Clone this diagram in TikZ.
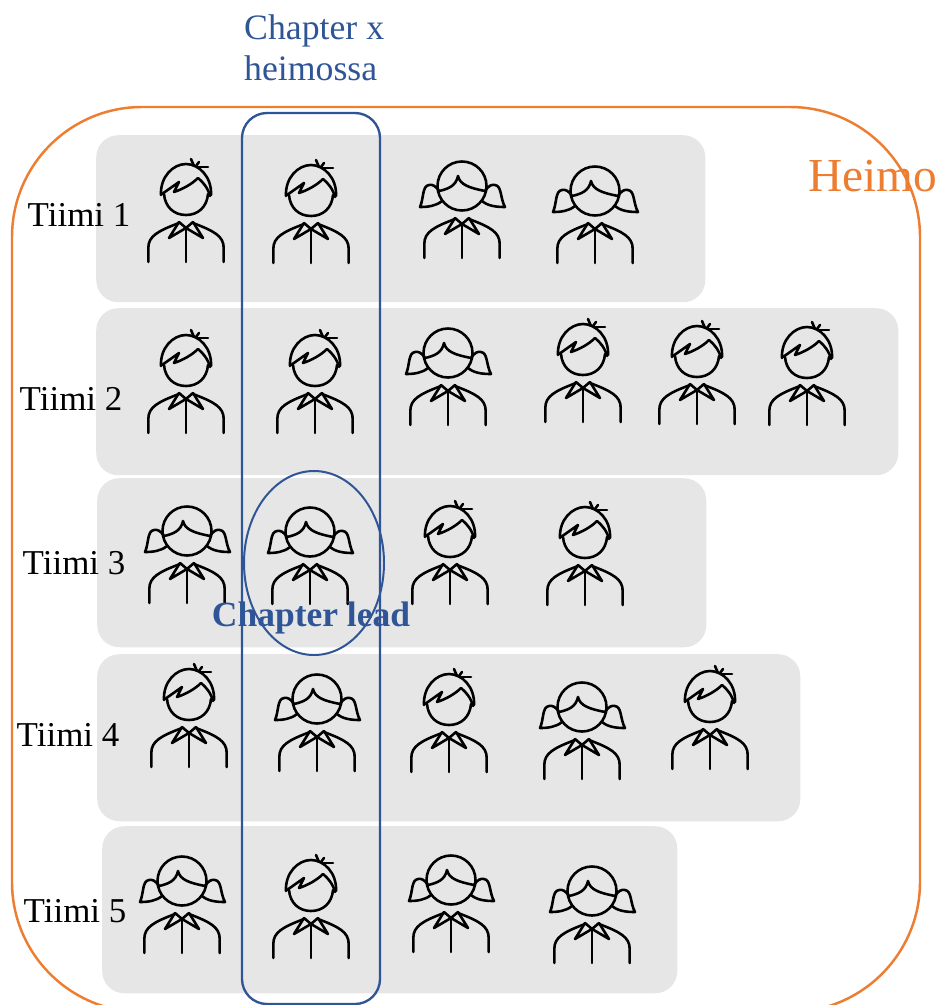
\documentclass[tikz,border=0pt]{standalone}
\usepackage{fontspec}
\usetikzlibrary{shapes.geometric}
\setmainfont{Liberation Serif}
\definecolor{heimoorange}{HTML}{ED7D31}
\definecolor{chapterblue}{HTML}{2F5597}
\definecolor{panelgray}{HTML}{E6E6E6}
\begin{document}
\begin{tikzpicture}[x=0.03cm,y=-0.03cm]
        \tikzset{panel/.style = {shape=rectangle,fill=panelgray,rounded corners=0.66cm,inner sep=0pt,anchor=north west}}
        \tikzset{team/.style = {font=\fontsize{29.8}{32}\selectfont,inner sep=0pt}}
        \tikzset{icon/.style = {line width=2.2pt,line cap=round,line join=round}}
        \tikzset{body/.pic = {
                \draw[icon] (-37.7,72) -- (-37.7,58) .. controls (-37.7,46) and (-28,41) .. (-7,33);
                \draw[icon] (37.7,72) -- (37.7,58) .. controls (37.7,46) and (28,41) .. (7,33);
                \draw[icon] (-7,32) -- (-17,48) -- (0,38) -- (17,48) -- (7,32);
                \draw[icon] (-7,32) -- (0,38) -- (7,32);
                \draw[icon] (0,38) -- (0,72);
        }}
        \tikzset{boy/.pic = {
                \pic {body};
                \draw[icon] (-25,5) .. controls (-26,-13) and (-13,-26) .. (0,-26) .. controls (13,-26) and (26,-13) .. (25,5);
                \draw[icon] (-22,4) .. controls (-21,17) and (-12,25) .. (0,25) .. controls (12,25) and (21,17) .. (22,4);
                \draw[icon] (-24,4) -- (-7,-8) -- (-12,2) .. controls (-3,-1) and (6,-6) .. (12,-12) .. controls (17,-8) and (22,-2) .. (24,6);
                \draw[icon] (5,-31) -- (8,-24);
                \draw[icon] (13,-28) -- (10,-24);
                \draw[icon] (22,-23) -- (12,-23);
        }}
        \tikzset{girl/.pic = {
                \pic {body};
                \draw[icon] (0,0) circle (24.5);
                \draw[icon] (-23,5) .. controls (-14,3) and (-6,0) .. (-4,-10) .. controls (-2,-1) and (8,2) .. (23,5);
                \draw[icon] (-23,5) .. controls (-26,0) and (-30,-2) .. (-33,-1) .. controls (-40,0) and (-38,12) .. (-42,21) .. controls (-34,21) and (-26,20) .. (-20,15);
                \draw[icon] (23,5) .. controls (26,0) and (30,-2) .. (33,-1) .. controls (40,0) and (38,12) .. (43,21) .. controls (34,21) and (26,20) .. (20,15);
        }}

        \useasboundingbox (0,0) rectangle (940,1005);

        \node[panel, minimum width=18.27cm, minimum height=5.01cm] (p1) at (96,135) {};
        \node[panel, minimum width=24.06cm, minimum height=5.01cm] (p2) at (96,308) {};
        \node[panel, minimum width=18.27cm, minimum height=5.07cm] (p3) at (97,478) {};
        \node[panel, minimum width=21.09cm, minimum height=5.01cm] (p4) at (97,654) {};
        \node[panel, minimum width=17.25cm, minimum height=5.01cm] (p5) at (102,826) {};

        \pic at (186,190) {boy};
        \pic at (311,191) {boy};
        \pic at (462,186) {girl};
        \pic at (595,191) {girl};

        \pic at (186,361) {boy};
        \pic at (315,361) {boy};
        \pic at (448,353) {girl};
        \pic at (583,350) {boy};
        \pic at (697,352) {boy};
        \pic at (807,353) {boy};

        \pic at (187,531) {girl};
        \pic at (310,532) {girl};
        \pic at (450,532) {boy};
        \pic at (585,533) {boy};

        \pic at (189,695) {boy};
        \pic at (317,699) {girl};
        \pic at (449,700) {boy};
        \pic at (582,707) {girl};
        \pic at (710,697) {boy};

        \pic at (182,881) {girl};
        \pic at (311,886) {boy};
        \pic at (451,880) {girl};
        \pic at (592,891) {girl};

        \node[team] (t1) at (79,215) {Tiimi 1};
        \node[team] (t2) at (71,399) {Tiimi 2};
        \node[team] (t3) at (74,563) {Tiimi 3};
        \node[team] (t4) at (68,735) {Tiimi 4};
        \node[team] (t5) at (75,911) {Tiimi 5};

        \draw[heimoorange, line width=2.1pt, rounded corners=3.9cm] (12,107) rectangle (920,1012);
        \draw[chapterblue, line width=2pt, rounded corners=0.75cm] (242,113) rectangle (380,1004);
        \node[draw=chapterblue, line width=1.7pt, shape=ellipse, minimum width=4.2cm, minimum height=5.52cm, inner sep=0pt] (lead) at (314,563) {};

        \node[text=heimoorange, font=\fontsize{40.4}{44}\selectfont, inner sep=0pt] (heimo) at (873,176) {Heimo};
        \node[text=chapterblue, font=\fontsize{30.5}{35.5}\selectfont, align=left, inner sep=0pt, anchor=north west] (chap) at (244,14) {Chapter x\\heimossa};
        \node[text=chapterblue, font=\fontsize{30.3}{34}\selectfont\bfseries, inner sep=0pt] (leadlabel) at (311,618) {Chapter lead};
\end{tikzpicture}
\end{document}
